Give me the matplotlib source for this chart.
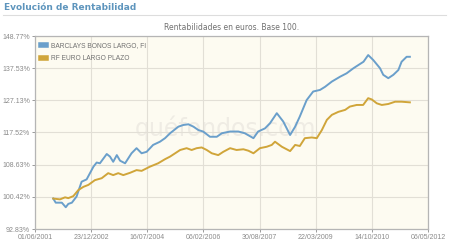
import numpy as np
import pandas as pd
import matplotlib
matplotlib.use("Agg")
import matplotlib.pyplot as plt
from matplotlib.ticker import FixedLocator, NullLocator

# -------- data (decimal years / base 100) --------

blue_t = [2001.92, 2001.99, 2002.16, 2002.27, 2002.34, 2002.44, 2002.57, 2002.71, 2002.85,
          2003.04, 2003.13, 2003.22, 2003.41, 2003.50, 2003.59, 2003.69, 2003.78, 2003.92,
          2004.10, 2004.24, 2004.38, 2004.52, 2004.70, 2004.89, 2005.03, 2005.17, 2005.40,
          2005.54, 2005.68, 2005.82, 2005.96, 2006.09, 2006.28, 2006.47, 2006.61, 2006.84,
          2007.07, 2007.25, 2007.49, 2007.62, 2007.81, 2007.95, 2008.14, 2008.32, 2008.51,
          2008.65, 2008.78, 2008.97, 2009.15, 2009.34, 2009.48, 2009.67, 2009.90, 2010.08,
          2010.27, 2010.41, 2010.55, 2010.68, 2010.82, 2011.01, 2011.10, 2011.24, 2011.38,
          2011.52, 2011.61, 2011.75, 2011.84]
blue_v = [100.0, 99.0, 99.0, 97.9, 98.7, 99.0, 100.5, 104.2, 104.8,
          108.1, 109.2, 109.0, 111.5, 110.8, 109.4, 111.2, 109.7, 109.0,
          111.7, 113.1, 111.7, 112.1, 114.0, 114.9, 115.9, 117.3, 119.2,
          119.7, 119.9, 119.2, 118.2, 117.8, 116.3, 116.3, 117.3, 117.8,
          117.8, 117.3, 115.9, 117.8, 118.7, 120.2, 123.2, 120.7, 116.8,
          119.2, 122.2, 127.2, 129.9, 130.4, 131.4, 133.1, 134.7, 135.8,
          137.5, 138.6, 139.7, 142.0, 140.3, 137.5, 135.3, 134.2, 135.3,
          136.9, 139.7, 141.4, 141.4]

gold_t = [2001.92, 2002.11, 2002.25, 2002.34, 2002.48, 2002.62, 2002.76, 2002.90, 2003.08,
          2003.27, 2003.45, 2003.59, 2003.73, 2003.87, 2004.06, 2004.24, 2004.38, 2004.61,
          2004.84, 2005.03, 2005.17, 2005.45, 2005.63, 2005.77, 2005.91, 2006.05, 2006.19,
          2006.33, 2006.51, 2006.65, 2006.84, 2007.02, 2007.21, 2007.35, 2007.49, 2007.67,
          2007.86, 2008.00, 2008.09, 2008.28, 2008.51, 2008.65, 2008.78, 2008.92, 2009.11,
          2009.25, 2009.39, 2009.53, 2009.67, 2009.85, 2010.04, 2010.17, 2010.36, 2010.54,
          2010.68, 2010.78, 2010.92, 2011.06, 2011.24, 2011.43, 2011.61, 2011.84]
gold_v = [100.0, 99.8, 100.3, 100.1, 100.6, 102.1, 102.9, 103.4, 104.6,
          105.1, 106.4, 105.9, 106.4, 105.9, 106.5, 107.2, 107.0, 108.1,
          109.0, 110.1, 110.8, 112.6, 113.1, 112.6, 113.1, 113.3, 112.6,
          111.7, 111.2, 112.1, 113.1, 112.6, 112.8, 112.4, 111.7, 113.1,
          113.5, 114.0, 114.9, 113.5, 112.3, 114.0, 113.7, 115.9, 116.1,
          115.9, 118.2, 121.2, 122.7, 123.6, 124.2, 125.2, 125.7, 125.7,
          127.8, 127.4, 126.2, 125.7, 126.0, 126.7, 126.7, 126.5]

y_ticks = [92.83, 100.42, 108.63, 117.52, 127.13, 137.53, 148.77]
x_ticks = ['01/06/2001', '23/12/2002', '16/07/2004', '06/02/2006',
           '30/08/2007', '22/03/2009', '14/10/2010', '06/05/2012']
labels = ['BARCLAYS BONOS LARGO, FI', 'RF EURO LARGO PLAZO']


def to_date(t):
    t = np.asarray(t)
    yr = np.floor(t).astype(int)
    return [pd.Timestamp(int(y), 1, 1) + pd.Timedelta(days=float((f - y) * 365.25))
            for y, f in zip(yr, t)]


blue_c = '#6a9fcb'
gold_c = '#d0a53a'
grey = '#8a8a8a'

fig = plt.figure(figsize=(4.5, 2.49), dpi=100)
ax = fig.add_axes([35 / 450, 1 - 229 / 249, 393 / 450, 193 / 249])
ax.set_facecolor('#fdfbf1')

ax.plot(to_date(blue_t), blue_v, color=blue_c, lw=1.4, label=labels[0])
ax.plot(to_date(gold_t), gold_v, color=gold_c, lw=1.4, label=labels[1])

ax.set_yscale('log')
ax.set_ylim(y_ticks[0], y_ticks[-1])
ax.yaxis.set_major_locator(FixedLocator(y_ticks))
ax.yaxis.set_minor_locator(NullLocator())
ax.set_yticklabels([f'{v:.2f}%' for v in y_ticks])

xt = pd.to_datetime(x_ticks, format='%d/%m/%Y')
ax.set_xlim(xt[0], xt[-1])
ax.set_xticks(xt)
ax.set_xticklabels(x_ticks)
ax.xaxis.set_minor_locator(NullLocator())

ax.grid(True, color='#e2dfd6', lw=0.8)
ax.set_axisbelow(True)
ax.tick_params(labelsize=5, colors=grey, length=2, width=0.6, pad=1.5)
for lab in ax.get_xticklabels() + ax.get_yticklabels():
    lab.set_family('Liberation Sans')
for s in ax.spines.values():
    s.set_color('#b5b5b5')
    s.set_linewidth(0.9)

# watermark
ax.text(0.485, 0.52, 'quéfondos.com', transform=ax.transAxes, fontsize=17,
        color='#efece4', ha='center', va='center', zorder=0)

leg = ax.legend(loc='upper left', frameon=False, handlelength=0.7,
                handleheight=0.7, borderaxespad=0.5, labelspacing=0.9,
                prop={'family': 'Liberation Sans', 'size': 4.8})
for h in leg.legend_handles:
    h.set_linewidth(4)
for txt in leg.get_texts():
    txt.set_color('#707070')

fig.text(4 / 450, 1 - 8 / 249, 'Evolución de Rentabilidad', fontsize=6.5,
         fontweight='bold', color='#5e95bd', va='center', ha='left')
fig.add_artist(plt.Line2D([3 / 450, 446 / 450], [1 - 15 / 249, 1 - 15 / 249],
                          color='#dddddd', lw=0.8))
fig.text(232 / 450, 1 - 27 / 249, 'Rentabilidades en euros. Base 100.', fontsize=5.5,
         color='#707070', ha='center', va='center')

fig.savefig('out.png', dpi=100)
